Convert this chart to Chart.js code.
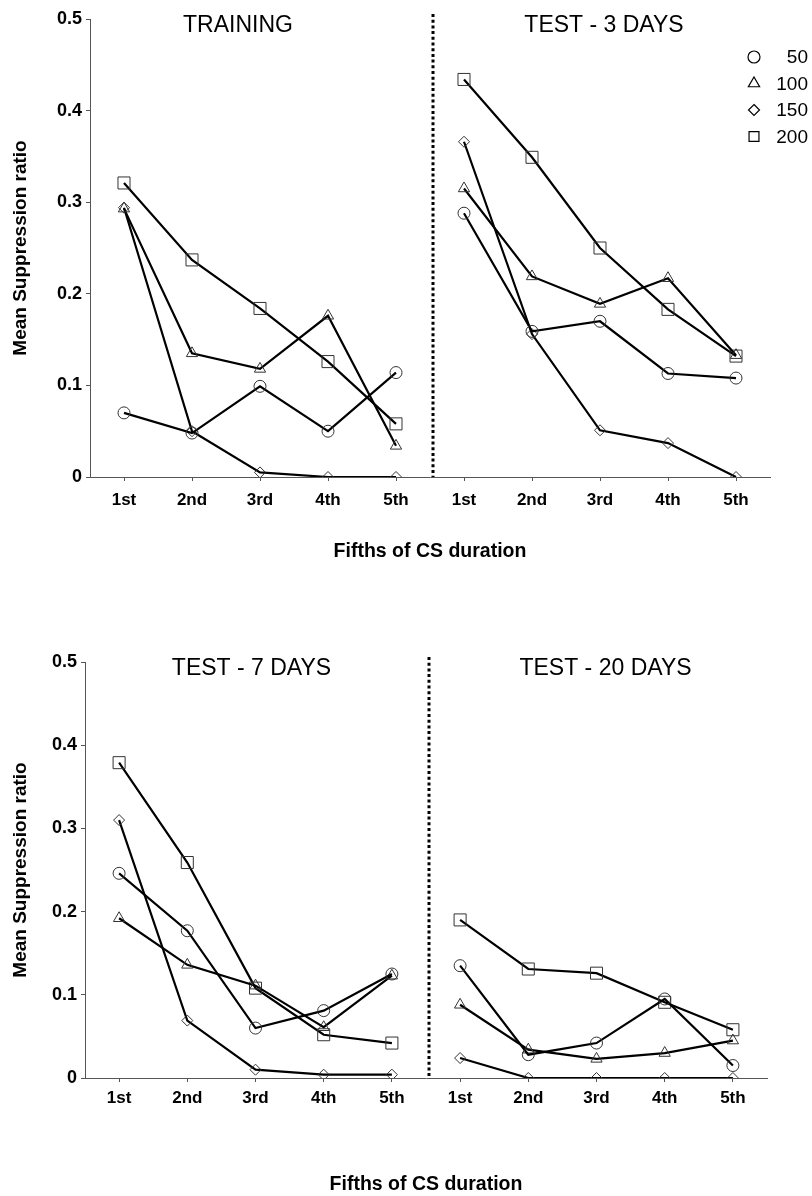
<!DOCTYPE html>
<html>
<head>
<meta charset="utf-8">
<script src="https://cdn.jsdelivr.net/npm/chart.js@4/dist/chart.umd.min.js"></script>
<style>
  body { margin: 0; background: #fff; }
  #wrap { position: relative; width: 812px; height: 1196px; }
  canvas { position: absolute; left: 0; }
</style>
</head>
<body>
<div id="wrap">
  <canvas id="top-chart" width="812" height="572" style="top:0"></canvas>
  <canvas id="bottom-chart" width="812" height="596" style="top:600px"></canvas>
</div>
<script>
const fifths = ["1st", "2nd", "3rd", "4th", "5th"];
const yTickLabels = ["0", "0.1", "0.2", "0.3", "0.4", "0.5"];
const groups = ["50", "100", "150", "200"];

// training
const training50 = [0.070, 0.048, 0.099, 0.050, 0.114];
const training100 = [0.293, 0.135, 0.118, 0.176, 0.034];
const training150 = [0.294, 0.050, 0.005, 0.000, 0.000];
const training200 = [0.321, 0.237, 0.184, 0.126, 0.058];

// test - 3 days
const day3_50 = [0.288, 0.159, 0.170, 0.113, 0.108];
const day3_100 = [0.315, 0.219, 0.189, 0.217, 0.133];
const day3_150 = [0.366, 0.156, 0.051, 0.037, 0.000];
const day3_200 = [0.434, 0.349, 0.250, 0.183, 0.132];

// test - 7 days
const day7_50 = [0.246, 0.177, 0.060, 0.081, 0.125];
const day7_100 = [0.192, 0.136, 0.111, 0.061, 0.123];
const day7_150 = [0.310, 0.069, 0.010, 0.004, 0.004];
const day7_200 = [0.379, 0.259, 0.108, 0.052, 0.042];

// test - 20 days
const day20_50 = [0.135, 0.028, 0.042, 0.095, 0.015];
const day20_100 = [0.088, 0.034, 0.023, 0.030, 0.045];
const day20_150 = [0.024, 0.000, 0.000, 0.000, 0.000];
const day20_200 = [0.190, 0.131, 0.126, 0.091, 0.058];

const markers = [
  { style: "circle", radius: 6 },
  { style: "triangle", radius: 6.5 },
  { style: "rectRot", radius: 5.5 },
  { style: "rect", radius: 8.5 },
];

const FONT = "'Liberation Sans', Arial, sans-serif";

function drawMarker(ctx, style, r, x, y) {
  ctx.beginPath();
  if (style === "circle") {
    ctx.arc(x, y, r, 0, Math.PI * 2);
  } else if (style === "triangle") {
    ctx.moveTo(x, y - r);
    ctx.lineTo(x + r * 0.866, y + r * 0.5);
    ctx.lineTo(x - r * 0.866, y + r * 0.5);
    ctx.closePath();
  } else if (style === "rectRot") {
    ctx.moveTo(x, y - r);
    ctx.lineTo(x + r, y);
    ctx.lineTo(x, y + r);
    ctx.lineTo(x - r, y);
    ctx.closePath();
  } else {
    const s = r * Math.SQRT1_2;
    ctx.rect(x - s, y - s, 2 * s, 2 * s);
  }
  ctx.stroke();
}

// dotted divider, panel headings and the legend
const panelDecor = {
  id: "panelDecor",
  afterDatasetsDraw(chart, args, opts) {
    const { ctx, chartArea, scales } = chart;
    const x = scales.x;
    const divX = (x.getPixelForValue(4) + x.getPixelForValue(5)) / 2 + 3;
    ctx.save();
    ctx.strokeStyle = "#000";
    ctx.lineWidth = 3;
    ctx.setLineDash([3, 2.7]);
    ctx.beginPath();
    ctx.moveTo(divX, chartArea.top - 5);
    ctx.lineTo(divX, chartArea.bottom);
    ctx.stroke();
    ctx.setLineDash([]);

    ctx.fillStyle = "#000";
    ctx.font = "23px " + FONT;
    ctx.textAlign = "center";
    ctx.textBaseline = "middle";
    opts.headings.forEach((h, i) => {
      const cx = x.getPixelForValue(i * 5 + 2) + h.dx;
      ctx.fillText(h.text, cx, chartArea.top + opts.headingDy);
    });

    if (opts.legend) {
      ctx.font = "19px " + FONT;
      ctx.textAlign = "right";
      ctx.strokeStyle = "#000";
      ctx.lineWidth = 1.2;
      groups.forEach((g, i) => {
        const ly = chartArea.top + 38 + i * 26.5;
        const m = markers[i];
        drawMarker(ctx, m.style, Math.min(m.radius, 7), chartArea.right - 16, ly);
        ctx.fillText(g, chartArea.right + 38, ly + 1);
      });
    }
    ctx.restore();
  },
};

function makeChart(id, left, right, cfg) {
  const datasets = groups.map((g, i) => ({
    label: g,
    data: left[i].concat(right[i]),
    borderColor: "#000",
    borderWidth: 2.2,
    pointStyle: markers[i].style,
    pointRadius: markers[i].radius,
    pointBorderColor: "#333",
    pointBorderWidth: 1,
    pointBackgroundColor: "rgba(0,0,0,0)",
    tension: 0,
    segment: {
      borderColor: (c) => (c.p0DataIndex === 4 ? "rgba(0,0,0,0)" : "#000"),
    },
  }));

  const axisColor = "#555";
  return new Chart(document.getElementById(id), {
    type: "line",
    data: { labels: fifths.concat(fifths), datasets: datasets },
    options: {
      responsive: false,
      animation: false,
      layout: { padding: { top: cfg.top, right: cfg.right, left: 0, bottom: 0 } },
      plugins: {
        legend: { display: false },
        tooltip: { enabled: false },
        panelDecor: { headings: cfg.headings, headingDy: 7, legend: cfg.legend },
      },
      scales: {
        x: {
          type: "category",
          offset: true,
          afterFit: (s) => { s.height = cfg.xHeight; },
          grid: { display: true, drawOnChartArea: false, tickLength: 4, color: axisColor },
          border: { color: axisColor, width: 1 },
          ticks: {
            color: "#000",
            padding: cfg.xTickPad,
            maxRotation: 0,
            autoSkip: false,
            font: { family: FONT, size: 17, weight: "bold" },
          },
          title: {
            display: true,
            text: "Fifths of CS duration",
            color: "#000",
            padding: { top: 0, bottom: cfg.xTitlePad },
            font: { family: FONT, size: 19.5, weight: "bold" },
          },
        },
        y: {
          min: 0,
          max: 0.5,
          afterFit: (s) => { s.width = cfg.yWidth; },
          grid: { display: true, drawOnChartArea: false, tickLength: 4, color: axisColor },
          border: { color: axisColor, width: 1 },
          ticks: {
            stepSize: 0.1,
            color: "#000",
            padding: 4,
            callback: (v, i) => yTickLabels[i],
            font: { family: FONT, size: 18, weight: "bold" },
          },
          title: {
            display: true,
            text: "Mean Suppression ratio",
            color: "#000",
            padding: { top: 9, bottom: 0 },
            font: { family: FONT, size: 19, weight: "bold" },
          },
        },
      },
    },
    plugins: [panelDecor],
  });
}

makeChart(
  "top-chart",
  [training50, training100, training150, training200],
  [day3_50, day3_100, day3_150, day3_200],
  {
    top: 19, right: 42, yWidth: 90, xHeight: 95, xTickPad: 9, xTitlePad: 9, legend: true,
    headings: [{ text: "TRAINING", dx: -22 }, { text: "TEST - 3 DAYS", dx: 4 }],
  }
);

makeChart(
  "bottom-chart",
  [day7_50, day7_100, day7_150, day7_200],
  [day20_50, day20_100, day20_150, day20_200],
  {
    top: 62, right: 45, yWidth: 85, xHeight: 118, xTickPad: 6, xTitlePad: 0, legend: false,
    headings: [{ text: "TEST - 7 DAYS", dx: -4 }, { text: "TEST - 20 DAYS", dx: 9 }],
  }
);
</script>
</body>
</html>
